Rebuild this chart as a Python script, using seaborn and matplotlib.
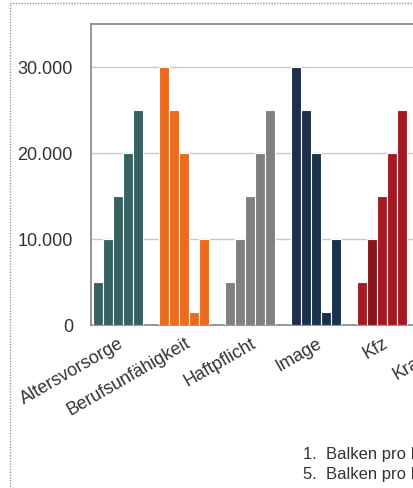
"""
Gruppierte Balken je Versicherungssparte (5 Balken pro Gruppe), Ausschnitt.
"""
import numpy as np
import pandas as pd
import matplotlib
matplotlib.use("Agg")
import matplotlib.pyplot as plt
import matplotlib.ticker as mticker
import matplotlib.transforms as mtransforms
from matplotlib.patches import Rectangle
import seaborn as sns

categories = ["Altersvorsorge", "Berufsunfähigkeit", "Haftpflicht", "Image", "Kfz", "Kranken"]
bar_labels = ["1. Balken", "2. Balken", "3. Balken", "4. Balken", "5. Balken"]
rising = [5000, 10000, 15000, 20000, 25000]
falling = [30000, 25000, 20000, 1500, 10000]
values = [rising, falling, rising, falling, rising, falling]

cat_colors = ["#366262", "#EB6A1E", "#808080", "#1C304C", "#A41A22", "#E8A33C"]
highlight = ("Kfz", 1, "#8A141B")  # dunkler markierter Balken
legend_lines = ["1.  Balken pro Kategorie", "5.  Balken pro Kategorie"]

TXT = "#333333"


def german(v, pos):
    return f"{int(v):,}".replace(",", ".")


def main():
    sns.set_style("white")
    plt.rcParams["font.family"] = ["Liberation Sans", "DejaVu Sans"]

    df = pd.DataFrame(
        [(c, b, v) for c, vals in zip(categories, values) for b, v in zip(bar_labels, vals)],
        columns=["kategorie", "balken", "wert"],
    )

    fig = plt.figure(figsize=(4.13, 4.88), dpi=100)
    W, H = 413, 488
    ax = fig.add_axes([91 / W, (H - 325) / H, 384 / W, (325 - 24) / H])

    sns.barplot(
        data=df, x="kategorie", y="wert", hue="balken", order=categories,
        hue_order=bar_labels, width=0.76, dodge=True, gap=0, legend=False,
        edgecolor="white", linewidth=0.8, ax=ax, zorder=3,
    )

    # Farbe je Kategorie statt je Balken-Nummer
    for j, cont in enumerate(ax.containers):
        for i, patch in enumerate(cont.patches):
            col = cat_colors[i]
            if categories[i] == highlight[0] and j == highlight[1]:
                col = highlight[2]
            patch.set_facecolor(col)

    ax.set_xlim(-0.41, 5.41)
    ax.set_ylim(0, 35000)
    ax.set_yticks([0, 10000, 20000, 30000])
    ax.yaxis.set_major_formatter(mticker.FuncFormatter(german))
    ax.grid(axis="y", color="#C8C8C8", lw=1, zorder=0)
    ax.set_axisbelow(True)
    ax.set_xlabel("")
    ax.set_ylabel("")

    for side in ["top", "left", "bottom"]:
        ax.spines[side].set_color("#8C8C8C")
        ax.spines[side].set_linewidth(1.3)
    ax.spines["right"].set_visible(False)

    ax.tick_params(axis="y", length=0, pad=13, labelsize=13, labelcolor=TXT)
    ax.tick_params(axis="x", length=0, pad=7, labelsize=13, labelcolor=TXT)
    ax.set_xticks(range(len(categories)))
    ax.set_xticklabels(categories, rotation=30, ha="right", va="top")
    offset = mtransforms.ScaledTranslation(9 / 100, 0, fig.dpi_scale_trans)
    for lab in ax.get_xticklabels():
        lab.set_transform(lab.get_transform() + offset)

    # gepunkteter Rahmen um die Grafik
    fig.add_artist(Rectangle((10 / W, -0.2), 1.5, (H - 3) / H + 0.2,
                             transform=fig.transFigure, fill=False,
                             ls=(0, (1, 1)), lw=1, ec="#9A9A9A", clip_on=False))

    for k, line in enumerate(legend_lines):
        fig.text(303 / W, (H - 455 - 20 * k) / H, line, fontsize=12,
                 color=TXT, va="center", ha="left")

    fig.savefig("out.png", dpi=100)


if __name__ == "__main__":
    main()
